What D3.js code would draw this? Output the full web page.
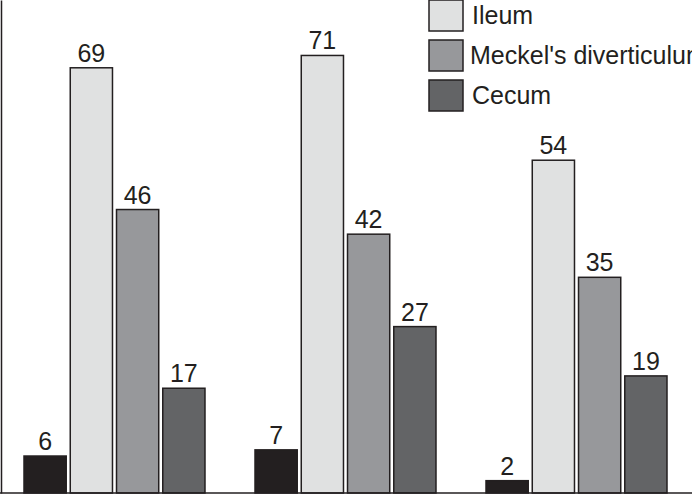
<!DOCTYPE html>
<html>
<head>
<meta charset="utf-8">
<script src="https://cdn.jsdelivr.net/npm/d3@7"></script>
<style>
  body { margin: 0; background: #fff; overflow: hidden; }
  svg { display: block; font-family: "Liberation Sans", Arial, sans-serif; }
</style>
</head>
<body>
<div id="chart_div"></div>
<script>
// data
var groups = ["A", "B", "C"];
var series = ["Other", "Ileum", "Meckel's diverticulum", "Cecum"];
var values = [
    [6, 69, 46, 17],
    [7, 71, 42, 27],
    [2, 54, 35, 19]
];
var legend_series = ["Ileum", "Meckel's diverticulum", "Cecum"];
var colors = ["#231f20", "#e0e1e1", "#97989b", "#636466"];

var width = 692, height = 495;
var base_y = 493;

var svg = d3.select("#chart_div").append("svg")
    .attr("width", width)
    .attr("height", height);

var x0 = d3.scaleBand()
    .domain(groups)
    .range([24, 667])
    .paddingInner(0.2165)
    .paddingOuter(0);

var x1 = d3.scaleBand()
    .domain(series)
    .range([0, x0.bandwidth()])
    .paddingInner(0.087)
    .paddingOuter(0);

var y = d3.scaleLinear()
    .domain([0, 80])
    .range([base_y, 0]);

var color = d3.scaleOrdinal().domain(series).range(colors);

// bars
var g = svg.selectAll(".group")
    .data(groups)
    .enter()
    .append("g")
    .attr("class", "group")
    .attr("transform", function(d) { return "translate(" + x0(d) + ",0)"; });

var cells = g.selectAll(".cell")
    .data(function(d, i) {
        return series.map(function(s, j) { return { s: s, v: values[i][j] }; });
    })
    .enter();

cells.append("rect")
    .attr("x", function(d) { return x1(d.s); })
    .attr("y", function(d) { return y(d.v); })
    .attr("width", x1.bandwidth())
    .attr("height", function(d) { return y(0) - y(d.v); })
    .attr("fill", function(d) { return color(d.s); })
    .attr("stroke", "#231f20")
    .attr("stroke-width", 1.5);

cells.append("text")
    .attr("x", function(d) { return x1(d.s) + x1.bandwidth() / 2; })
    .attr("y", function(d) { return y(d.v) - 6; })
    .attr("text-anchor", "middle")
    .attr("font-size", 25)
    .attr("fill", "#231f20")
    .text(function(d) { return d.v; });

// axis lines
var axis = d3.axisLeft(y).ticks(0).tickSize(0).tickFormat("");
svg.append("g")
    .attr("transform", "translate(1,0)")
    .call(axis)
    .select(".domain")
    .attr("stroke", "#231f20")
    .attr("stroke-width", 1.5);

svg.append("line")
    .attr("x1", 0)
    .attr("x2", width)
    .attr("y1", base_y)
    .attr("y2", base_y)
    .attr("stroke", "#231f20")
    .attr("stroke-width", 1.5);

// legend
var legend_y = d3.scalePoint()
    .domain(legend_series)
    .range([0, 80]);

var lg = svg.selectAll(".legend")
    .data(legend_series)
    .enter()
    .append("g")
    .attr("class", "legend")
    .attr("transform", function(d) { return "translate(429," + legend_y(d) + ")"; });

lg.append("rect")
    .attr("x", 0)
    .attr("y", 0)
    .attr("width", 34)
    .attr("height", 31)
    .attr("fill", function(d) { return color(d); })
    .attr("stroke", "#231f20")
    .attr("stroke-width", 1.5);

lg.append("text")
    .attr("x", function(d, i) { return i == 1 ? 41 : 43; })
    .attr("y", 24)
    .attr("font-size", 25)
    .attr("fill", "#231f20")
    .text(function(d) { return d; });
</script>
</body>
</html>
